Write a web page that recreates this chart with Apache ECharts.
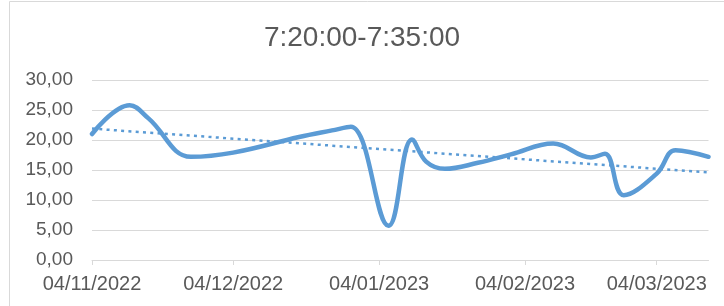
<!DOCTYPE html>
<html>
<head>
<meta charset="utf-8">
<script src="https://cdn.jsdelivr.net/npm/echarts@6/dist/echarts.min.js"></script>
<style>
  html, body { margin: 0; padding: 0; background: #fff; }
  #chart { width: 724px; height: 306px; }
</style>
</head>
<body>
<div id="chart"></div>
<script>
// values
var dates = [
  "2022-11-04", "2022-11-12", "2022-11-16", "2022-11-25", "2022-12-04",
  "2022-12-18", "2022-12-25", "2022-12-29", "2023-01-06", "2023-01-11",
  "2023-01-14", "2023-01-18", "2023-01-25", "2023-02-01", "2023-02-10",
  "2023-02-18", "2023-02-21", "2023-02-25", "2023-03-04", "2023-03-08",
  "2023-03-15"
];
var values = [
  21.0, 25.8, 23.6, 17.2, 17.9,
  20.5, 21.6, 22.2, 5.7, 20.1,
  16.4, 15.2, 16.2, 17.6, 19.4,
  17.1, 17.7, 10.8, 14.4, 18.3,
  17.2
];
// linear trend line, start and end values as drawn
var trendDates = ["2022-11-04", "2023-03-15"];
var trendValues = [21.9, 14.6];
var tickDates = ["2022-11-04", "2022-12-04", "2023-01-04", "2023-02-04", "2023-03-04"];
var yTicks = [0, 5, 10, 15, 20, 25, 30];

function toTime(s) {
  var p = s.split("-");
  return Date.UTC(+p[0], +p[1] - 1, +p[2]);
}
function pad(n) { return n < 10 ? "0" + n : "" + n; }

var mainData = dates.map(function (d, i) { return [toTime(d), values[i]]; });
var trendData = trendDates.map(function (d, i) { return [toTime(d), trendValues[i]]; });
var tickTimes = tickDates.map(toTime);

var myChart = echarts.init(document.getElementById("chart"));
var option = {
  animation: false,
  title: {
    text: "7:20:00-7:35:00",
    left: "center",
    top: 19,
    textStyle: {
      fontFamily: "Liberation Sans",
      fontSize: 28,
      fontWeight: "normal",
      color: "#595959"
    }
  },
  graphic: [{
    type: "rect",
    shape: { x: 9.5, y: 1.5, width: 800, height: 400 },
    style: { fill: "none", stroke: "#d9d9d9", lineWidth: 1 },
    silent: true
  }],
  grid: { left: 92, right: 15.5, top: 80, bottom: 46 },
  xAxis: {
    type: "value",
    min: toTime(dates[0]),
    max: toTime(dates[dates.length - 1]),
    axisLine: { lineStyle: { color: "#d9d9d9", width: 1 } },
    axisTick: {
      show: true,
      length: 5,
      customValues: tickTimes,
      lineStyle: { color: "#d9d9d9" }
    },
    splitLine: { show: false },
    axisLabel: {
      customValues: tickTimes,
      margin: 14,
      fontFamily: "Liberation Sans",
      fontSize: 20,
      color: "#595959",
      formatter: function (v) {
        var d = new Date(v);
        return pad(d.getUTCDate()) + "/" + pad(d.getUTCMonth() + 1) + "/" + d.getUTCFullYear();
      }
    }
  },
  yAxis: {
    type: "value",
    min: yTicks[0],
    max: yTicks[yTicks.length - 1],
    interval: 5,
    axisLine: { show: false },
    axisTick: { show: false },
    splitLine: { lineStyle: { color: "#d9d9d9", width: 1 } },
    axisLabel: {
      margin: 19,
      fontFamily: "Liberation Sans",
      fontSize: 19,
      color: "#595959",
      formatter: function (v) { return v.toFixed(2).replace(".", ","); }
    }
  },
  series: [
    {
      type: "line",
      data: mainData,
      smooth: 0.4,
      showSymbol: false,
      lineStyle: { color: "#5b9bd5", width: 4.5, cap: "round", join: "round" }
    },
    {
      type: "line",
      data: trendData,
      showSymbol: false,
      lineStyle: { color: "#5b9bd5", width: 2.5, type: [3, 4.3] }
    }
  ]
};
myChart.setOption(option);
</script>
</body>
</html>
